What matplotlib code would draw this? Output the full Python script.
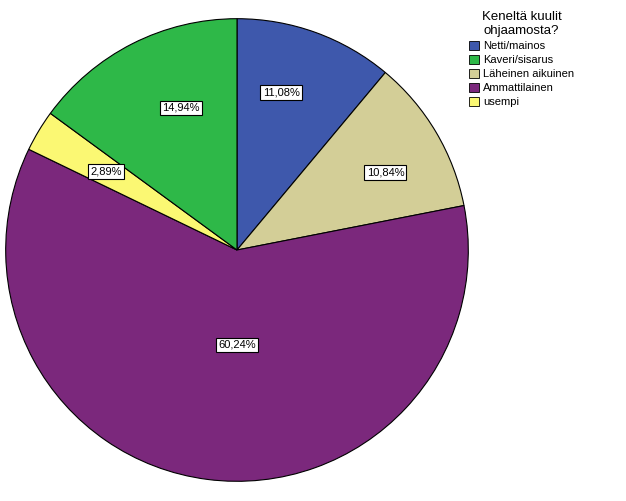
import numpy as np
import matplotlib
matplotlib.use("Agg")
import matplotlib.pyplot as plt

plt.rcParams['font.family'] = ['Liberation Sans', 'DejaVu Sans']

# legend order
categories = ["Netti/mainos", "Kaveri/sisarus", "Läheinen aikuinen", "Ammattilainen", "usempi"]
percent = [11.08, 14.94, 10.84, 60.24, 2.89]
colors = ["#3E58AC", "#2EB848", "#D3CE97", "#7B287C", "#FBF873"]

# order the slices run clockwise from 12 o'clock
pie_order = [0, 2, 3, 4, 1]
# label placement: (radius fraction, angle shift in degrees from slice middle)
label_pos = {0: (0.707, 4.3), 2: (0.724, -3.0), 3: (0.41, 7.3),
             4: (0.66, 0.0), 1: (0.66, -5.5)}

fig = plt.figure(figsize=(6.26, 5.01), dpi=100)
ax = fig.add_axes([5 / 626, 19 / 501, 464 / 626, 464 / 501])

vals = [percent[i] for i in pie_order]
cols = [colors[i] for i in pie_order]
wedges, _ = ax.pie(vals, colors=cols, startangle=90, counterclock=False,
                   wedgeprops=dict(edgecolor="black", linewidth=0.8))
ax.set_xlim(-1.003, 1.003)
ax.set_ylim(-1.003, 1.003)
ax.set_aspect("equal")

for w, i in zip(wedges, pie_order):
    r, shift = label_pos[i]
    mid = np.deg2rad((w.theta1 + w.theta2) / 2 + shift)
    txt = f"{percent[i]:.2f}%".replace(".", ",")
    ax.text(r * np.cos(mid), r * np.sin(mid), txt, ha="center", va="center",
            fontsize=8,
            bbox=dict(boxstyle="square,pad=0.2", fc="white", ec="black", lw=0.8))

handles = [plt.Rectangle((0, 0), 1, 1, fc=colors[i], ec="black", lw=0.6)
           for i in range(len(categories))]
leg = fig.legend(handles, categories, title="Keneltä kuulit\nohjaamosta?",
                 loc="upper left", bbox_to_anchor=(465 / 626, 1 - 7 / 501),
                 frameon=False, fontsize=8, title_fontsize=9.5,
                 handlelength=0.9, handleheight=0.9, handletextpad=0.3,
                 labelspacing=0.32, borderaxespad=0)
leg.get_title().set_multialignment("center")

fig.savefig("out.png", dpi=100)
